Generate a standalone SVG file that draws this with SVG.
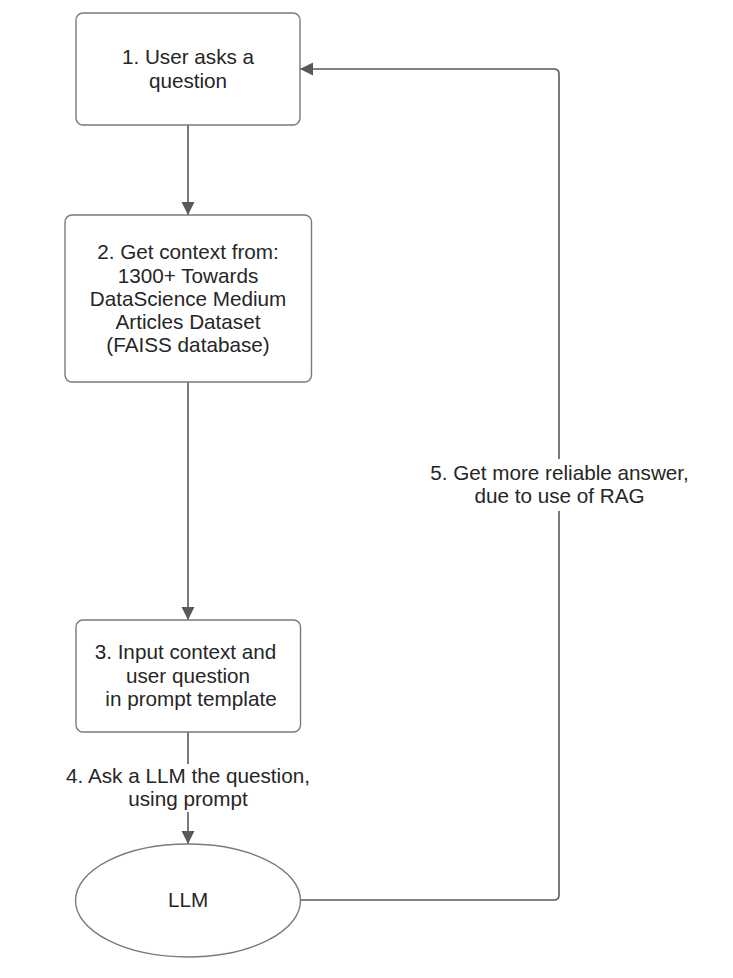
<svg xmlns="http://www.w3.org/2000/svg" width="733" height="978" viewBox="0 0 733 978">
<style>
.node{fill:#ffffff;stroke:#7a7a7a;stroke-width:1.4}
.t{font-family:"Liberation Sans",Arial,sans-serif;font-size:20.7px;fill:#262626;text-anchor:middle}
.edge{fill:none;stroke:#595959;stroke-width:1.6}
.lbl{fill:#ffffff;stroke:none}
</style>
<defs>
<marker id="arr" markerUnits="userSpaceOnUse" markerWidth="14" markerHeight="14" refX="13" refY="6.5" orient="auto">
<path d="M0,0 L13,6.5 L0,13 z" fill="#595959"/>
</marker>
</defs>
<rect width="733" height="978" fill="#ffffff"/>
<g id="connectors">
<path class="edge" d="M188,125 V215" marker-end="url(#arr)"/>
<path class="edge" d="M188,382 V620" marker-end="url(#arr)"/>
<path class="edge" d="M188,732 V844" marker-end="url(#arr)"/>
<path class="edge" d="M300,900 H554 Q559,900 559,895 V74 Q559,69 554,69 H300" marker-end="url(#arr)"/>
<g id="label4">
<rect class="lbl" x="64" y="764" width="248" height="48"/>
<text class="t" x="188" y="783">4. Ask a LLM the question,</text>
<text class="t" x="188" y="806">using prompt</text>
</g>
<g id="label5">
<rect class="lbl" x="426" y="459" width="267" height="52"/>
<text class="t" x="559.5" y="480">5. Get more reliable answer,</text>
<text class="t" x="559.5" y="503">due to use of RAG</text>
</g>
</g>
<g id="node1">
<rect class="node" x="76" y="13" width="224" height="112" rx="7"/>
<text class="t" x="188" y="64">1. User asks a</text>
<text class="t" x="188" y="87.5">question</text>
</g>
<g id="node2">
<rect class="node" x="65" y="215" width="246.5" height="167" rx="7"/>
<text class="t" x="188" y="259">2. Get context from:</text>
<text class="t" x="188" y="282.5">1300+ Towards</text>
<text class="t" x="188" y="306">DataScience Medium</text>
<text class="t" x="188" y="329">Articles Dataset</text>
<text class="t" x="188" y="352">(FAISS database)</text>
</g>
<g id="node3">
<rect class="node" x="76" y="620" width="224.5" height="112" rx="7"/>
<text class="t" x="185.5" y="659">3. Input context and</text>
<text class="t" x="188" y="683">user question</text>
<text class="t" x="191" y="706">in prompt template</text>
</g>
<g id="node4">
<ellipse class="node" cx="188" cy="900.5" rx="112.5" ry="56.5"/>
<text class="t" x="188" y="907">LLM</text>
</g>
</svg>
